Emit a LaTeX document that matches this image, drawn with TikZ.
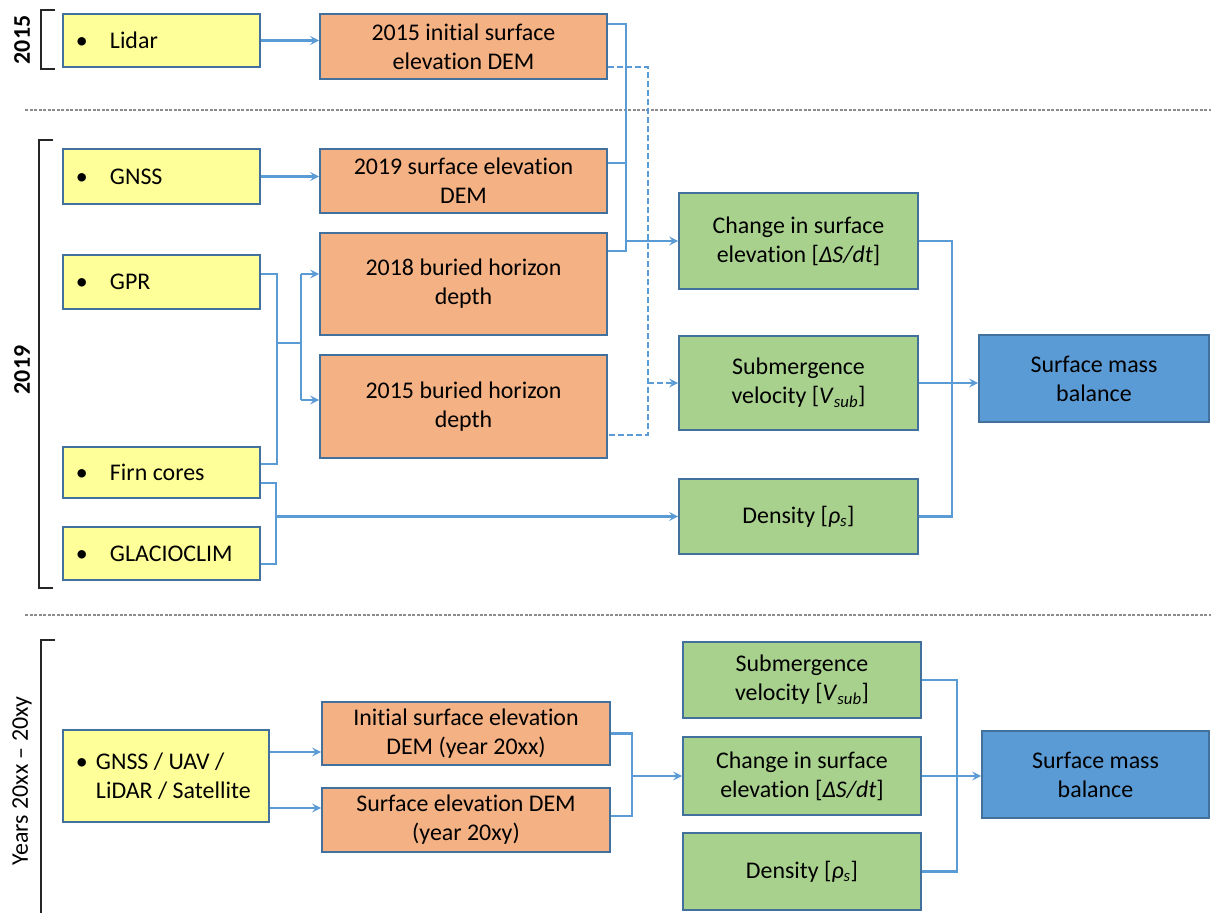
\documentclass[tikz,border=0pt]{standalone}
\usepackage{fontspec}
\setmainfont{Carlito}[Ligatures=CommonOff, RawFeature={-liga,-clig,-calt,-dlig}]
\usetikzlibrary{arrows.meta}
\definecolor{yfill}{HTML}{FFFF99}
\definecolor{ofill}{HTML}{F4B183}
\definecolor{gfill}{HTML}{A9D18E}
\definecolor{bfill}{HTML}{5B9BD5}
\definecolor{bdr}{HTML}{41719C}
\definecolor{lnc}{HTML}{5B9BD5}
\begin{document}
\begin{tikzpicture}[x=1bp,y=-1bp,
  every node/.style={font=\fontsize{24}{29}\selectfont, execute at begin node={\spaceskip=0pt\xspaceskip=0pt\relax}},
  box/.style={draw=bdr, line width=1.8bp, inner ysep=0pt, inner xsep=0pt, align=center},
  ybox/.style={box, fill=yfill, align=left, inner xsep=13bp},
  obox/.style={box, fill=ofill},
  gbox/.style={box, fill=gfill},
  bbox/.style={box, fill=bfill},
  conn/.style={draw=lnc, line width=2.4bp},
  dconn/.style={conn, dash pattern=on 6bp off 3bp},
  arr/.style={-{Stealth[length=9bp,width=9bp,inset=3.5bp]}},
  brk/.style={draw=black!85, line width=1.3bp},
  sep/.style={draw=gray!90, line width=1.1bp, dash pattern=on 3bp off 1.5bp},
  lab/.style={rotate=90, font=\fontsize{24}{29}\selectfont}
]
\useasboundingbox (0,0) rectangle (1211,913);

% separators and brackets
\draw[sep] (25,110) -- (1211,110);
\draw[sep] (25,615) -- (1211,615);
\draw[brk] (55,10) -- (41,10) -- (41,69) -- (55,69);
\draw[brk] (53,140) -- (39,140) -- (39,588) -- (53,588);
\draw[brk] (55,640) -- (41,640) -- (41,913);
\node[lab, font=\fontsize{24}{29}\selectfont\bfseries] (l15) at (22,40) {2015};
\node[lab, font=\fontsize{24}{29}\selectfont\bfseries] (l19) at (22,370) {2019};
\node[lab] (lyy) at (22,781) {Years 20xx -- 20xy};

% yellow boxes
\node[ybox, text width=171bp, minimum height=53bp] (lidar) at (161.5,40.5) {\makebox[34bp][l]{\textbullet}Lidar};
\node[ybox, text width=171bp, minimum height=55bp] (gnss) at (161.5,176.5) {\makebox[34bp][l]{\textbullet}GNSS};
\node[ybox, text width=171bp, minimum height=54bp] (gpr) at (161.5,282) {\makebox[34bp][l]{\textbullet}GPR};
\node[ybox, text width=171bp, minimum height=51bp] (firn) at (161.5,472.5) {\makebox[34bp][l]{\textbullet}Firn cores};
\node[ybox, text width=171bp, minimum height=53bp] (glac) at (161.5,553.5) {\makebox[34bp][l]{\textbullet}GLACIOCLIM};
\node[ybox, text width=180bp, minimum height=92bp] (multi) at (166,776) {\makebox[20bp][l]{\textbullet}GNSS / UAV /\\\hspace*{20bp}LiDAR / Satellite};

% orange boxes
\node[obox, minimum width=287bp, minimum height=65bp] (dem15) at (463.5,46.5) {2015 initial surface\\elevation DEM};
\node[obox, minimum width=287bp, minimum height=64bp] (dem19) at (463.5,181) {2019 surface elevation\\DEM};
\node[obox, minimum width=287bp, minimum height=102bp] (bh18) at (463.5,284) {2018 buried horizon\\depth};
\node[obox, minimum width=287bp, minimum height=103bp] (bh15) at (463.5,406.5) {2015 buried horizon\\depth};
\node[obox, minimum width=288bp, minimum height=63bp] (demxx) at (466,733.5) {Initial surface elevation\\DEM (year 20xx)};
\node[obox, minimum width=288bp, minimum height=64bp] (demxy) at (466,820) {Surface elevation DEM\\(year 20xy)};

% green boxes
\node[gbox, minimum width=239bp, minimum height=96bp] (chg) at (798.5,241) {Change in surface\\elevation [\textit{ΔS/dt}]};
\node[gbox, minimum width=239bp, minimum height=94bp] (sub) at (798.5,383) {Submergence\\velocity [\textit{V}\textsubscript{\textit{sub}}]};
\node[gbox, minimum width=239bp, minimum height=75bp] (den) at (798.5,516.5) {Density [\textit{ρ}\textsubscript{\textit{s}}]};
\node[gbox, minimum width=238bp, minimum height=76bp] (sub2) at (802,680) {Submergence\\velocity [\textit{V}\textsubscript{\textit{sub}}]};
\node[gbox, minimum width=238bp, minimum height=78bp] (chg2) at (802,776) {Change in surface\\elevation [\textit{ΔS/dt}]};
\node[gbox, minimum width=238bp, minimum height=77bp] (den2) at (802,871.5) {Density [\textit{ρ}\textsubscript{\textit{s}}]};

% blue boxes
\node[bbox, minimum width=230bp, minimum height=87bp] (smb) at (1094,378.5) {Surface mass\\balance};
\node[bbox, minimum width=227bp, minimum height=87bp] (smb2) at (1095.5,774.5) {Surface mass\\balance};

% anchor points
\coordinate (d15a) at ([yshift=-11bp]dem15.north east);
\coordinate (d15b) at ([yshift=13bp]dem15.south east);
\coordinate (d19a) at ([yshift=-15bp]dem19.north east);
\coordinate (b18a) at ([yshift=-19bp]bh18.north east);
\coordinate (b15a) at ([yshift=24bp]bh15.south east);
\coordinate (gprA) at ([yshift=8bp]gpr.east);
\coordinate (firnA) at ([yshift=8.5bp]firn.east);
\coordinate (firnB) at ([yshift=-10.5bp]firn.east);
\coordinate (glacB) at ([yshift=-10.5bp]glac.east);
\coordinate (b18w) at ([yshift=10bp]bh18.west);
\coordinate (b15w) at ([yshift=6.5bp]bh15.west);
\coordinate (dxxw) at ([yshift=-18.5bp]demxx.west);
\coordinate (dxyw) at ([yshift=12bp]demxy.west);
\coordinate (dxyE) at ([yshift=4bp]demxy.east);
\coordinate (tA) at (626,0);
\coordinate (tB) at (648,0);
\coordinate (tC) at (277,0);
\coordinate (tD) at (301,343);
\coordinate (tE) at (276,0);
\coordinate (tF) at (952,0);
\coordinate (tG) at (632,0);
\coordinate (tH) at (957,0);

% top connectors
\draw[conn, arr] (lidar.east) -- (dem15.west |- lidar.east);
\draw[conn, arr] (gnss.east) -- (dem19.west |- gnss.east);
\draw[conn] (d15a) -- (tA |- d15a) -- (tA |- b18a) -- (b18a);
\draw[conn] (d19a) -- (tA |- d19a);
\draw[conn, arr] (tA |- chg.west) -- (chg.west);
\draw[dconn] (d15b) -- (tB |- d15b) -- (tB |- b15a) -- (b15a);
\draw[dconn, arr] (tB |- sub.west) -- (sub.west);

% left connectors
\draw[conn] (gprA) -- (tC |- gprA) -- (tC |- firnA) -- (firnA);
\draw[conn] (tC |- tD) -- (tD);
\draw[conn] (tD |- b18w) -- (tD |- b15w);
\draw[conn, arr] (tD |- b18w) -- (b18w);
\draw[conn, arr] (tD |- b15w) -- (b15w);
\draw[conn] (firnB) -- (tE |- firnB) -- (tE |- glacB) -- (glacB);
\draw[conn, arr] (tE |- den.west) -- (den.west);

% right connectors
\draw[conn] (chg.east) -- (tF |- chg.east) -- (tF |- den.east) -- (den.east);
\draw[conn, arr] (sub.east) -- (smb.west |- sub.east);

% bottom connectors
\draw[conn, arr] (multi.east |- dxxw) -- (dxxw);
\draw[conn, arr] (multi.east |- dxyw) -- (dxyw);
\draw[conn] (demxx.east) -- (tG |- demxx.east) -- (tG |- dxyE) -- (dxyE);
\draw[conn, arr] (tG |- chg2.west) -- (chg2.west);
\draw[conn] (sub2.east) -- (tH |- sub2.east) -- (tH |- den2.east) -- (den2.east);
\draw[conn, arr] (chg2.east) -- (smb2.west |- chg2.east);
\end{tikzpicture}
\end{document}
